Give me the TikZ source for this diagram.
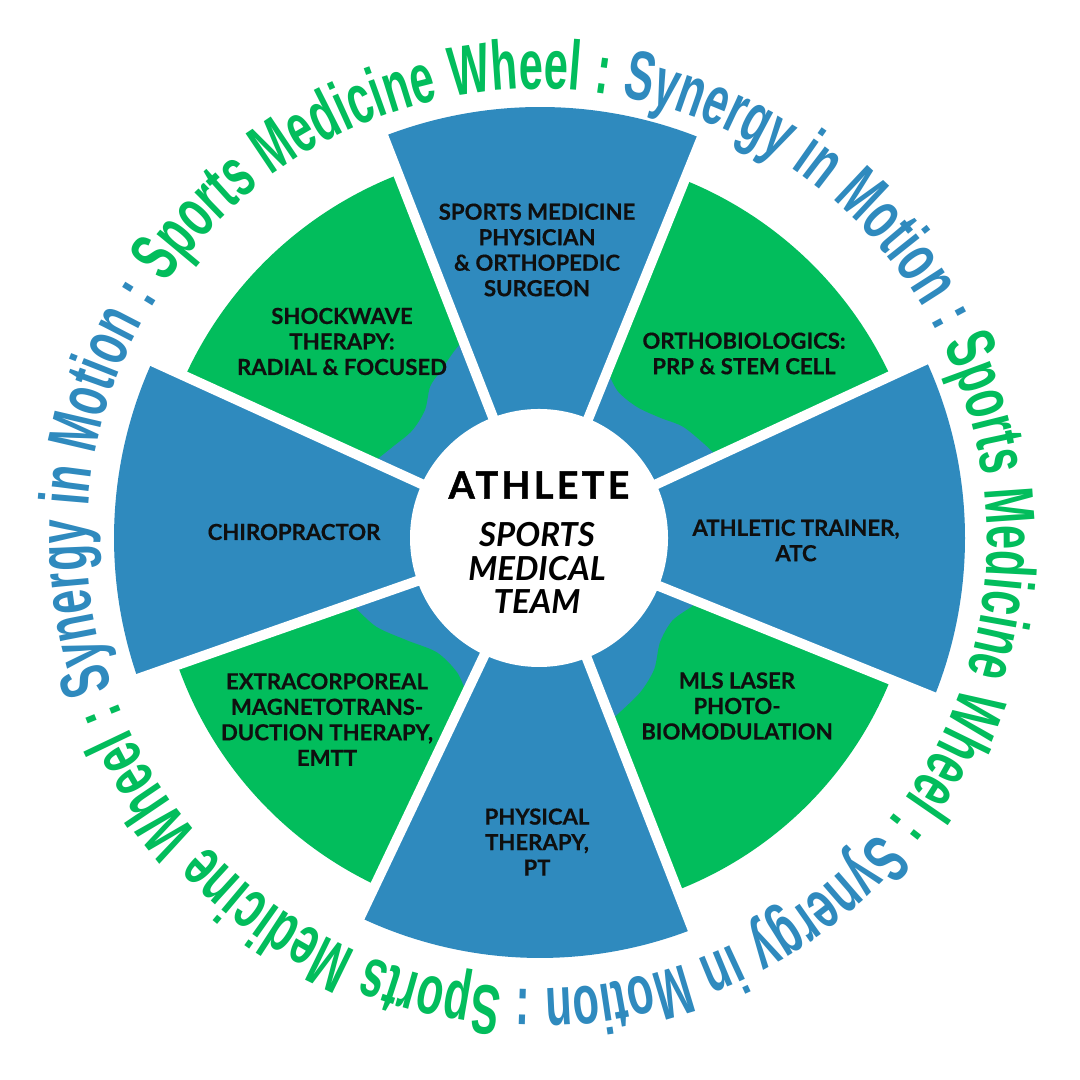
\documentclass[tikz,border=0pt]{standalone}
\usepackage{fontspec}
\setmainfont{Lato}
\newfontfamily\wheelfont[FakeStretch=0.62]{Liberation Sans}
\newfontfamily\athletefont[LetterSpace=9, BoldFeatures={FakeBold=1.2}]{Lato}
\newfontfamily\labelfont[BoldFeatures={FakeBold=0.4}]{Lato}
\usetikzlibrary{decorations.text}
\definecolor{tblue}{RGB}{47,138,190}
\definecolor{tgreen}{RGB}{2,189,92}
\definecolor{tink}{RGB}{15,15,15}
\newcommand\wheelstyle{\wheelfont\bfseries\fontsize{19.9pt}{20pt}\selectfont}
\newcommand\wcg{\wheelstyle\color{tgreen}}
\newcommand\wcb{\wheelstyle\color{tblue}}
\begin{document}
\begin{tikzpicture}[x=0.01cm,y=0.01cm,
  seglabel/.style={font=\labelfont\bfseries\fontsize{6.3pt}{7.25pt}\selectfont, text=tink, align=center, inner sep=0pt},
  gapline/.style={white, line width=2.85pt},
  bluefill/.style={fill=tblue},
  greenfill/.style={fill=tgreen}]
\useasboundingbox (0,0) rectangle (1080,1080);
\fill[white] (0,0) rectangle (1080,1080);
\begin{scope}[shift={(540,542)}]
  % blue inner ring behind the green segments
  \fill[bluefill] (0,0) circle[radius=240];
  % blue segments
  \fill[bluefill] (0,0) -- (-22:425) arc[start angle=-22, end angle=24.8, radius=425] -- cycle;
  \fill[bluefill] (0,0) -- (68:431) arc[start angle=68, end angle=111.3, radius=431] -- cycle;
  \fill[bluefill] (0,0) -- (155.5:426) arc[start angle=155.5, end angle=199.3, radius=426] -- cycle;
  \fill[bluefill] (0,0) -- (244.6:420) arc[start angle=244.6, end angle=291.3, radius=420] -- cycle;
  % green segments
  \fill[greenfill] (24.8:195) -- (24.8:386) arc[start angle=24.8, end angle=68, radius=386]
     -- plot[smooth] coordinates {(68:180) (62:166) (53.5:163) (45:170) (38:181) (30:189) (24.8:195)} -- cycle;
  \fill[greenfill] (111.3:212) -- (111.3:390) arc[start angle=111.3, end angle=155.5, radius=390]
     -- plot[smooth] coordinates {(155.5:183) (148:173) (140:167) (132:172) (126:187) (121:194) (115:205) (111.3:212)} -- cycle;
  \fill[greenfill] (199.3:200) -- (199.3:384) arc[start angle=199.3, end angle=244.6, radius=384]
     -- plot[smooth] coordinates {(244.6:172) (238.4:158) (228:154) (217.5:168) (208.6:186) (201:197) (199.3:200)} -- cycle;
  \fill[greenfill] (-68.7:196) -- (-68.7:378) arc[start angle=-68.7, end angle=-22, radius=378]
     -- plot[smooth] coordinates {(-22:168) (-24:167) (-32:156) (-41:159) (-49:174) (-57:184) (-66.5:193) (-68.7:196)} -- cycle;
  % white gaps
  \foreach \g in {-22,24.8,68,111.3,155.5,199.3,244.6,291.3}
    \draw[gapline] (0,0) -- (\g:440);
  % centre disc
  \fill[white] (-1,0) circle[radius=129];
  % ring text
  \begin{scope}[shift={(-3,-1)}]
  \path[decorate, decoration={text along path,
      text align={fit to path stretching spaces},
      text={|\wcg|Sports Medicine Wheel :|\wcb| Synergy in Motion :|\wcg| Sports Medicine Wheel :|\wcb| Synergy in Motion :|\wcg| Sports Medicine Wheel :|\wcb| Synergy in Motion :}}]
    (145.5:450) arc[start angle=145.5, end angle=-212.5, radius=450];
  \end{scope}
\end{scope}
% labels
\node[seglabel] (lblTop) at (537,830) {SPORTS MEDICINE\\PHYSICIAN\\\& ORTHOPEDIC\\SURGEON};
\node[seglabel] (lblTR) at (744,726.5) {ORTHOBIOLOGICS:\\PRP \& STEM CELL};
\node[seglabel] (lblRight) at (796,539.5) {ATHLETIC TRAINER,\\ATC};
\node[seglabel] (lblBR) at (737,374) {MLS LASER\\PHOTO-\\BIOMODULATION};
\node[seglabel] (lblBottom) at (537,238) {PHYSICAL\\THERAPY,\\PT};
\node[seglabel] (lblBL) at (327,360.5) {EXTRACORPOREAL\\MAGNETOTRANS-\\DUCTION THERAPY,\\EMTT};
\node[seglabel] (lblLeft) at (294,548) {CHIROPRACTOR};
\node[seglabel] (lblTL) at (342,738.5) {SHOCKWAVE\\THERAPY:\\RADIAL \& FOCUSED};
\node[font=\athletefont\bfseries\fontsize{10.7pt}{12pt}\selectfont, text=black, inner sep=0pt] (athlete) at (539,595) {ATHLETE};
\node[font=\labelfont\bfseries\itshape\fontsize{9.4pt}{9.5pt}\selectfont, text=black, align=center, inner sep=0pt] (team) at (537,512) {SPORTS\\MEDICAL\\TEAM};
\end{tikzpicture}
\end{document}
